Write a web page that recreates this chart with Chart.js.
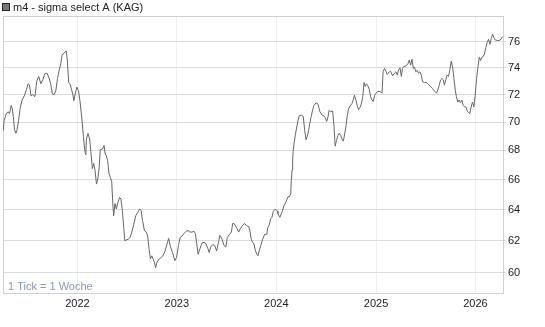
<!DOCTYPE html>
<html lang="de">
<head>
<meta charset="utf-8">
<title>m4 - sigma select A (KAG)</title>
<script src="https://cdn.jsdelivr.net/npm/chart.js@4/dist/chart.umd.min.js"></script>
<style>
  html, body { margin: 0; padding: 0; background: #fff; }
  #wrap { width: 545px; height: 327px; }
</style>
</head>
<body>
<div id="wrap"><canvas id="chart" width="545" height="327"></canvas></div>
<script>
// Tag-Offsets ab 2022-01-01 (ca. wöchentliche Kurse)
const dayOffsets = [
  -272, -269, -261, -254, -249, -243, -239, -235, -231, -226, -222, -216, -210, -203, -195, -188, -181, -176,
  -170, -164, -156, -149, -142, -134, -127, -120, -112, -105, -98, -92, -85, -79, -73, -67, -61, -56, -49, -41,
  -37, -32, -27, -22, -17, -13, -8, -2, 4, 10, 17, 22, 27, 31,
  33, 39, 45, 50, 55, 60, 65, 70, 75, 80, 84, 92, 98, 102, 106, 111, 116, 121, 126, 130, 133, 138, 143, 148,
  155, 160, 165, 170, 174, 180, 187, 193, 199, 207, 214, 221, 229, 234, 239, 246, 253, 258, 263, 268, 273, 278,
  283, 287, 292, 300, 307, 314, 322, 329, 335, 341, 349,
  358, 364, 371, 377, 384, 391, 399, 406, 413, 421, 428, 433, 438, 443, 450, 457, 465, 472, 479, 484, 489, 497,
  504, 511, 519, 523, 531, 538, 545, 550, 558, 565, 570, 575, 580, 585, 592, 599, 607, 614, 621, 629, 633, 638,
  643, 648, 653, 658, 663, 668, 673, 680, 687, 695, 699, 704, 709, 714, 719, 724, 729, 734,
  736, 743, 751, 758, 765, 773, 778, 783, 785, 788, 790, 792, 796, 800, 805, 810, 814, 822, 829, 834, 839, 844,
  849, 853, 858, 863, 868, 876, 883, 890, 898, 905, 910, 915, 920, 924, 929, 937, 942, 946, 951, 956, 961, 966,
  971, 976, 981, 986, 990, 995, 1000, 1008, 1012, 1017, 1022, 1027, 1032, 1037, 1042, 1047, 1052, 1056, 1061,
  1066, 1071, 1076, 1081, 1086, 1091, 1096, 1103,
  1113, 1118, 1122, 1127, 1132, 1137, 1145, 1149, 1157, 1164, 1169, 1174, 1179, 1184, 1189, 1193, 1198, 1206,
  1213, 1218, 1223, 1228, 1233, 1237, 1242, 1247, 1252, 1257, 1262, 1267, 1274, 1281, 1289, 1296, 1303, 1311,
  1318, 1323, 1328, 1333, 1338, 1343, 1347, 1352, 1357, 1362, 1367, 1372, 1377, 1382, 1387, 1391, 1396, 1401,
  1406, 1411, 1416, 1421, 1426, 1431, 1435, 1440, 1445, 1450, 1455, 1460, 1465, 1470, 1475, 1480, 1484, 1489,
  1494, 1499, 1504, 1509, 1514, 1519, 1524, 1528, 1533, 1541, 1548, 1555, 1560,
];

const prices = [
  69.4, 70.1, 70.6, 70.75, 70.6, 71.2, 71.0, 70.4, 69.5, 69.2, 69.4, 70.1, 71.0, 71.6, 71.9, 72.3, 72.8, 72.7,
  71.9, 72.0, 71.85, 73.0, 73.35, 72.8, 73.1, 73.55, 73.6, 73.3, 72.8, 72.05, 72.0, 72.3, 73.2, 73.8, 74.3, 75.0, 75.1, 75.3,
  74.6, 72.9, 72.8, 72.4, 72.05, 71.55, 72.05, 72.55, 72.3, 71.45, 70.15, 69.0, 68.0, 67.7,
  68.8, 69.2, 68.8, 67.8, 66.75, 67.1, 66.6, 65.7, 66.05, 66.85, 68.05, 68.1, 68.35, 67.75, 67.65, 67.3, 66.4, 66.15, 65.85, 64.4, 63.6, 64.4, 64.05, 64.45,
  64.8, 64.7, 63.95, 62.85, 62.0, 62.05, 62.1, 62.2, 62.5, 63.05, 63.6, 63.8, 64.05, 63.95, 63.3, 62.65, 62.55, 62.3, 61.5, 60.85, 61.05, 60.85,
  60.65, 60.3, 60.65, 60.85, 60.95, 61.05, 61.35, 61.8, 62.15, 61.65, 61.25,
  60.75, 60.95, 61.7, 62.2, 62.3, 62.45, 62.6, 62.65, 62.55, 62.55, 62.6, 62.45, 61.8, 61.15, 61.5, 61.85, 61.9, 61.8, 61.5, 61.25, 61.6, 61.75,
  61.7, 61.35, 62.0, 62.35, 62.1, 61.7, 61.6, 62.2, 62.4, 62.55, 63.1, 63.1, 62.95, 62.8, 62.55, 62.8, 63.0, 63.1, 62.95, 62.9, 62.65, 62.1,
  61.9, 61.8, 61.4, 61.15, 61.05, 61.4, 61.7, 62.1, 62.4, 62.4, 62.85, 63.0, 63.4, 63.5, 63.9, 64.0, 64.0, 63.9,
  63.75, 63.5, 63.85, 64.25, 64.5, 64.85, 64.85, 65.05, 65.95, 66.65, 67.35, 68.0, 68.6, 69.1, 69.65, 70.15, 70.45, 70.5, 70.4, 69.45, 68.75, 69.0,
  69.45, 69.9, 70.4, 70.85, 71.2, 71.4, 71.3, 70.75, 70.5, 70.45, 70.3, 70.05, 70.4, 70.85, 70.75, 70.8, 69.65, 68.3, 68.7, 69.05, 69.2, 69.05,
  68.8, 68.65, 69.15, 69.75, 70.4, 70.95, 71.15, 71.35, 71.6, 71.95, 71.6, 71.2, 70.9, 71.05, 71.3, 71.8, 72.9, 72.6, 72.8,
  72.65, 72.4, 71.85, 71.6, 71.5, 71.95, 72.1, 72.25,
  72.2, 72.1, 73.7, 73.95, 73.75, 73.5, 73.7, 73.75, 73.4, 73.6, 73.7, 73.45, 73.85, 74.0, 73.35, 73.95, 74.1, 74.15,
  74.3, 74.6, 74.2, 74.65, 73.95, 74.05, 73.7, 73.8, 73.6, 73.7, 73.45, 72.95, 72.9, 72.9, 72.75, 72.6, 72.45, 72.25,
  72.1, 72.35, 72.7, 73.1, 73.2, 73.1, 72.7, 73.1, 73.45, 73.35, 73.85, 74.5, 74.05, 73.2, 72.3, 71.85, 71.45, 71.6,
  71.4, 71.6, 71.2, 71.1, 71.1, 70.8, 70.7, 70.6, 71.1, 71.45, 71.1, 71.95, 73.2, 74.05, 74.8, 74.55, 74.8, 74.85,
  75.05, 75.55, 75.95, 76.2, 75.8, 76.25, 76.6, 76.35, 76.15, 76.1, 76.1, 76.2, 76.4,
];

const yearStarts = [0, 365, 730, 1096, 1461];
const yearLabels = ["2022", "2023", "2024", "2025", "2026"];
const priceTicks = [60, 62, 64, 66, 68, 70, 72, 74, 76];

const FONT = "'Liberation Sans', Arial, sans-serif";

const frameAndLabels = {
  id: "frameAndLabels",
  beforeDatasetsDraw(chart) {
    const { ctx, chartArea } = chart;
    ctx.save();
    ctx.strokeStyle = "#d0d0d0";
    ctx.lineWidth = 1;
    ctx.strokeRect(
      Math.round(chartArea.left) + 0.5,
      Math.round(chartArea.top) + 0.5,
      Math.round(chartArea.right - chartArea.left),
      Math.round(chartArea.bottom - chartArea.top),
    );
    ctx.restore();
  },
  afterDraw(chart) {
    const { ctx, chartArea } = chart;
    ctx.save();
    // Legende
    ctx.fillStyle = "#777";
    ctx.fillRect(2, 3, 8, 8);
    ctx.strokeStyle = "#222";
    ctx.strokeRect(2.5, 3.5, 7, 7);
    ctx.font = `11px ${FONT}`;
    ctx.textBaseline = "middle";
    ctx.fillStyle = "#222";
    ctx.fillText(chart.data.datasets[0].label, 13, 8);
    // Hinweis
    ctx.fillStyle = "#8799b5";
    ctx.fillText("1 Tick = 1 Woche", chartArea.left + 5, chartArea.bottom - 6);
    ctx.restore();
  },
};

new Chart(document.getElementById("chart"), {
  type: "line",
  data: {
    datasets: [
      {
        label: "m4 - sigma select A (KAG)",
        data: dayOffsets.map((d, i) => ({ x: d, y: prices[i] })),
        borderColor: "#666",
        borderWidth: 1,
        pointRadius: 0,
        tension: 0,
        fill: false,
      },
    ],
  },
  options: {
    responsive: false,
    animation: false,
    layout: { padding: { top: 16, left: 3, right: 0, bottom: 0 } },
    plugins: {
      legend: { display: false },
      tooltip: { enabled: false },
    },
    scales: {
      x: {
        type: "linear",
        min: -273,
        max: 1562,
        afterBuildTicks: (scale) => {
          scale.ticks = yearStarts.map((v) => ({ value: v }));
        },
        afterFit: (scale) => {
          scale.height = 34;
        },
        grid: { color: "#efefef", drawTicks: false },
        border: { display: false },
        ticks: {
          padding: 4,
          color: "#222",
          font: { family: FONT, size: 11 },
          maxRotation: 0,
          autoSkip: false,
          callback: (value) => yearLabels[yearStarts.indexOf(value)] ?? "",
        },
      },
      y: {
        type: "logarithmic",
        position: "right",
        min: 58.77,
        max: 78.03,
        afterBuildTicks: (scale) => {
          scale.ticks = priceTicks.map((v) => ({ value: v }));
        },
        afterFit: (scale) => {
          scale.width = 42;
        },
        grid: { color: "#dcdcdc", tickLength: 3 },
        border: { display: false },
        ticks: {
          padding: 2,
          color: "#222",
          font: { family: FONT, size: 11 },
          autoSkip: false,
          callback: (value) => String(value),
        },
      },
    },
  },
  plugins: [frameAndLabels],
});
</script>
</body>
</html>
